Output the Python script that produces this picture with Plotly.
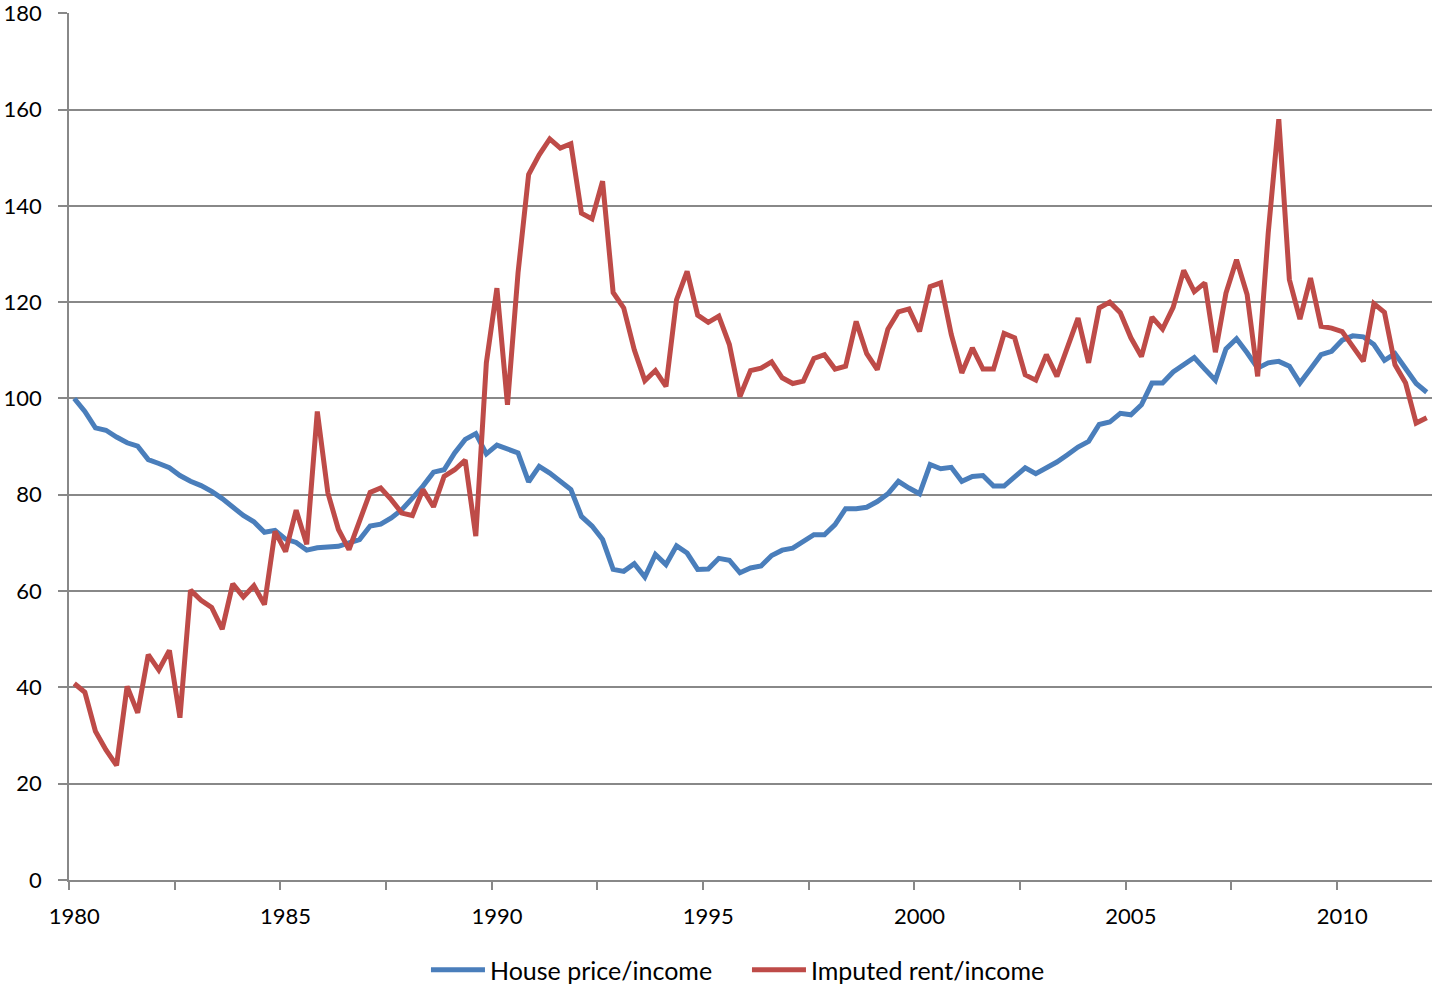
import plotly.graph_objects as go

# Quarterly observations, 1980Q1 .. 2012Q1
start_year = 1980
n_quarters = 129
quarters = [start_year + q / 4 for q in range(n_quarters)]

house_price_income = [
    100.0, 97.3, 93.9, 93.4, 92.0, 90.8, 90.1, 87.3, 86.5, 85.6,
    84.0, 82.8, 81.9, 80.7, 79.2, 77.5, 75.7, 74.4, 72.2, 72.6,
    70.8, 70.1, 68.5, 69.0, 69.1, 69.3, 70.0, 70.7, 73.5, 73.9,
    75.2, 76.9, 79.3, 81.8, 84.7, 85.2, 88.7, 91.5, 92.7, 88.5,
    90.3, 89.4, 88.7, 82.7, 85.9, 84.5, 82.9, 81.1, 75.5, 73.5,
    70.7, 64.5, 64.1, 65.7, 62.9, 67.6, 65.5, 69.4, 67.9, 64.5,
    64.6, 66.8, 66.4, 63.8, 64.8, 65.2, 67.4, 68.5, 68.9, 70.3,
    71.7, 71.7, 73.8, 77.1, 77.1, 77.4, 78.6, 80.2, 82.8, 81.4,
    80.2, 86.3, 85.4, 85.7, 82.8, 83.8, 84.0, 81.8, 81.8, 83.7,
    85.6, 84.4, 85.6, 86.8, 88.3, 89.9, 91.1, 94.6, 95.1, 96.9,
    96.6, 98.7, 103.2, 103.2, 105.5, 107.1, 108.5, 106.1, 103.8, 110.3,
    112.4, 109.5, 106.3, 107.4, 107.7, 106.7, 103.2, 106.1, 109.1, 109.8,
    112.1, 113.0, 112.8, 111.2, 107.9, 109.3, 106.1, 103.1, 101.3,
]

imputed_rent_income = [
    40.8, 39.0, 30.9, 27.0, 23.8, 40.2, 34.7, 46.8, 43.6, 47.7,
    33.7, 60.2, 58.1, 56.6, 52.1, 61.5, 58.8, 61.1, 57.2, 72.4,
    68.2, 76.8, 69.7, 97.3, 80.4, 72.8, 68.6, 74.8, 80.5, 81.4,
    79.0, 76.2, 75.7, 81.1, 77.5, 83.8, 85.2, 87.2, 71.4, 107.4,
    122.9, 98.7, 126.1, 146.5, 150.6, 153.9, 152.0, 152.9, 138.5, 137.3,
    145.1, 122.0, 118.8, 110.1, 103.7, 105.8, 102.5, 120.5, 126.4, 117.3,
    115.8, 117.1, 111.2, 100.4, 105.8, 106.3, 107.6, 104.3, 103.1, 103.6,
    108.3, 109.1, 106.1, 106.7, 116.0, 109.3, 106.0, 114.4, 118.0, 118.6,
    113.9, 123.2, 124.0, 113.3, 105.3, 110.5, 106.1, 106.1, 113.5, 112.6,
    104.9, 103.8, 109.1, 104.6, 110.7, 116.7, 107.4, 118.8, 120.0, 117.8,
    112.6, 108.7, 116.9, 114.4, 118.9, 126.6, 122.2, 124.0, 109.6, 121.9,
    128.8, 121.6, 104.6, 134.4, 158.0, 124.7, 116.5, 125.0, 115.0, 114.6,
    113.9, 110.8, 107.7, 119.7, 117.9, 107.0, 103.2, 94.9, 96.0,
]

x_label_years = [1980, 1985, 1990, 1995, 2000, 2005, 2010]
y_ticks = [0, 20, 40, 60, 80, 100, 120, 140, 160, 180]

BLUE = "#4A7EBB"
RED = "#BE4B48"
GRID = "#888888"
FONT = "Lato"

fig = go.Figure()
fig.add_trace(go.Scatter(
    x=quarters, y=house_price_income, mode="lines",
    name="House price/income",
    line=dict(color=BLUE, width=5),
))
fig.add_trace(go.Scatter(
    x=quarters, y=imputed_rent_income, mode="lines",
    name="Imputed rent/income",
    line=dict(color=RED, width=5),
))

half_q = 0.125
x_lo = quarters[0] - half_q
x_hi = quarters[-1] + half_q
boundary_ticks = [x_lo + 2.5 * k for k in range(14) if x_lo + 2.5 * k <= x_hi + 1e-9]

fig.update_layout(
    width=1433, height=995,
    margin=dict(l=69, r=1, t=13, b=115),
    paper_bgcolor="white", plot_bgcolor="white",
    font=dict(family=FONT, size=22, color="#000000"),
    showlegend=True,
    legend=dict(
        orientation="h", x=0.2619, xanchor="left", y=-0.0773, yanchor="top",
        font=dict(family=FONT, size=25), itemwidth=54, entrywidth=252,
        tracegroupgap=0,
    ),
    xaxis=dict(
        range=[x_lo, x_hi], automargin=False,
        tickmode="array", tickvals=x_label_years,
        ticktext=[str(y) for y in x_label_years],
        ticks="", showgrid=False, zeroline=False,
        showline=True, linecolor=GRID, linewidth=1.5,
        tickfont=dict(family=FONT, size=22),
        ticklabelstandoff=16,
        minor=dict(tickmode="array", tickvals=boundary_ticks, ticks="outside",
                   ticklen=8, tickwidth=1.5, tickcolor=GRID, showgrid=False),
    ),
    yaxis=dict(
        range=[0, 180.05], automargin=False,
        tickmode="array", tickvals=y_ticks,
        ticks="outside", ticklen=9, tickwidth=1.5, tickcolor=GRID,
        showgrid=True, gridcolor=GRID, gridwidth=1.5,
        zeroline=False, showline=True, linecolor=GRID, linewidth=1.5,
        tickfont=dict(family=FONT, size=22),
        ticklabelstandoff=12, ticklabeloverflow="allow",
    ),
)

# place the figure at the page's top-left corner (no default body margin)
fig.write_html(
    "out.html",
    config={"displayModeBar": False},
    post_script="document.body.style.margin='0';",
)
